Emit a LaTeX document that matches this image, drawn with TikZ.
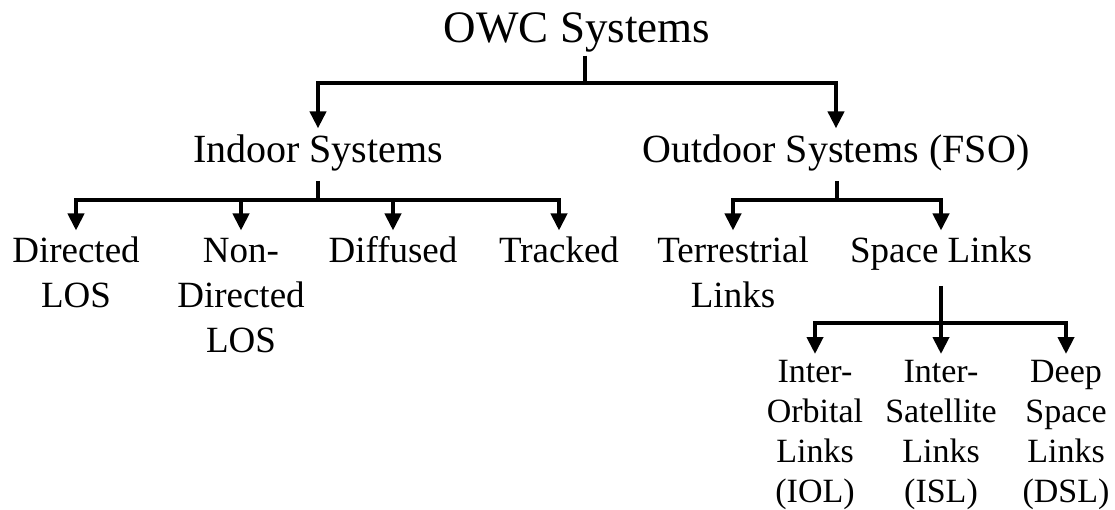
\documentclass[tikz,border=0pt]{standalone}
\usepackage{fontspec}
\setmainfont{Liberation Serif}
\usetikzlibrary{arrows.meta}
\tikzset{
  conn/.style={line width=4pt, draw=black},
  tip/.style={-{Triangle[length=17pt,width=16pt]}},
  lbl/.style={anchor=north, inner sep=0pt, align=center, text=black},
  lvlzero/.style={lbl, font=\fontsize{45}{54}\selectfont},
  lvlone/.style={lbl, font=\fontsize{40}{48}\selectfont},
  lvltwo/.style={lbl, font=\fontsize{37}{45}\selectfont},
  lvlthree/.style={lbl, font=\fontsize{34}{40}\selectfont},
}
\begin{document}
\begin{tikzpicture}[x=1pt, y=-1pt]
  \useasboundingbox (0,0) rectangle (1115,510);

  % labels
  \node[lvlzero] (title) at (577,4.2) {\strut OWC Systems};

  \node[lvlone] (indoor)  at (318,128.4) {\strut Indoor Systems};
  \node[lvlone] (outdoor) at (836,128.4) {\strut Outdoor Systems (FSO)};

  \node[lvltwo] (dlos)  at (76,230.5)  {\strut Directed\\LOS};
  \node[lvltwo] (ndlos) at (241,230.5) {\strut Non-\\Directed\\LOS};
  \node[lvltwo] (diff)  at (393,230.5) {\strut Diffused};
  \node[lvltwo] (track) at (559,230.5) {\strut Tracked};
  \node[lvltwo] (terr)  at (733,230.5) {\strut Terrestrial\\Links};
  \node[lvltwo] (space) at (941,230.5) {\strut Space Links};

  \node[lvlthree] (iol) at (815,354)  {\strut Inter-\\Orbital\\Links\\(IOL)};
  \node[lvlthree] (isl) at (941,354)  {\strut Inter-\\Satellite\\Links\\(ISL)};
  \node[lvlthree] (dsl) at (1066,354) {\strut Deep\\Space\\Links\\(DSL)};

  % branch junctions
  \coordinate (j0) at (585,83);
  \coordinate (j1) at (318,200);
  \coordinate (j2) at (837,200);
  \coordinate (j3) at (941,323);

  % OWC Systems -> indoor / outdoor
  \draw[conn] ([yshift=3pt]title.south -| j0) -- (j0);
  \draw[conn,tip] (j0) -| (indoor.north);
  \draw[conn,tip] (j0) -| (outdoor.north);

  % Indoor Systems -> its four kinds
  \draw[conn] ([yshift=-4pt]indoor.south -| j1) -- (j1);
  \draw[conn,tip] (j1) -| (dlos.north);
  \draw[conn,tip] (j1 -| ndlos) -- (ndlos.north);
  \draw[conn,tip] (j1 -| diff) -- (diff.north);
  \draw[conn,tip] (j1) -| (track.north);

  % Outdoor Systems -> terrestrial / space
  \draw[conn] ([yshift=-4pt]outdoor.south -| j2) -- (j2);
  \draw[conn,tip] (j2) -| (terr.north);
  \draw[conn,tip] (j2) -| (space.north);

  % Space Links -> IOL / ISL / DSL
  \draw[conn] ([yshift=-10pt]space.south -| j3) -- (j3);
  \draw[conn,tip] (j3) -| (iol.north);
  \draw[conn,tip] (j3) -- (isl.north);
  \draw[conn,tip] (j3) -| (dsl.north);
\end{tikzpicture}
\end{document}
